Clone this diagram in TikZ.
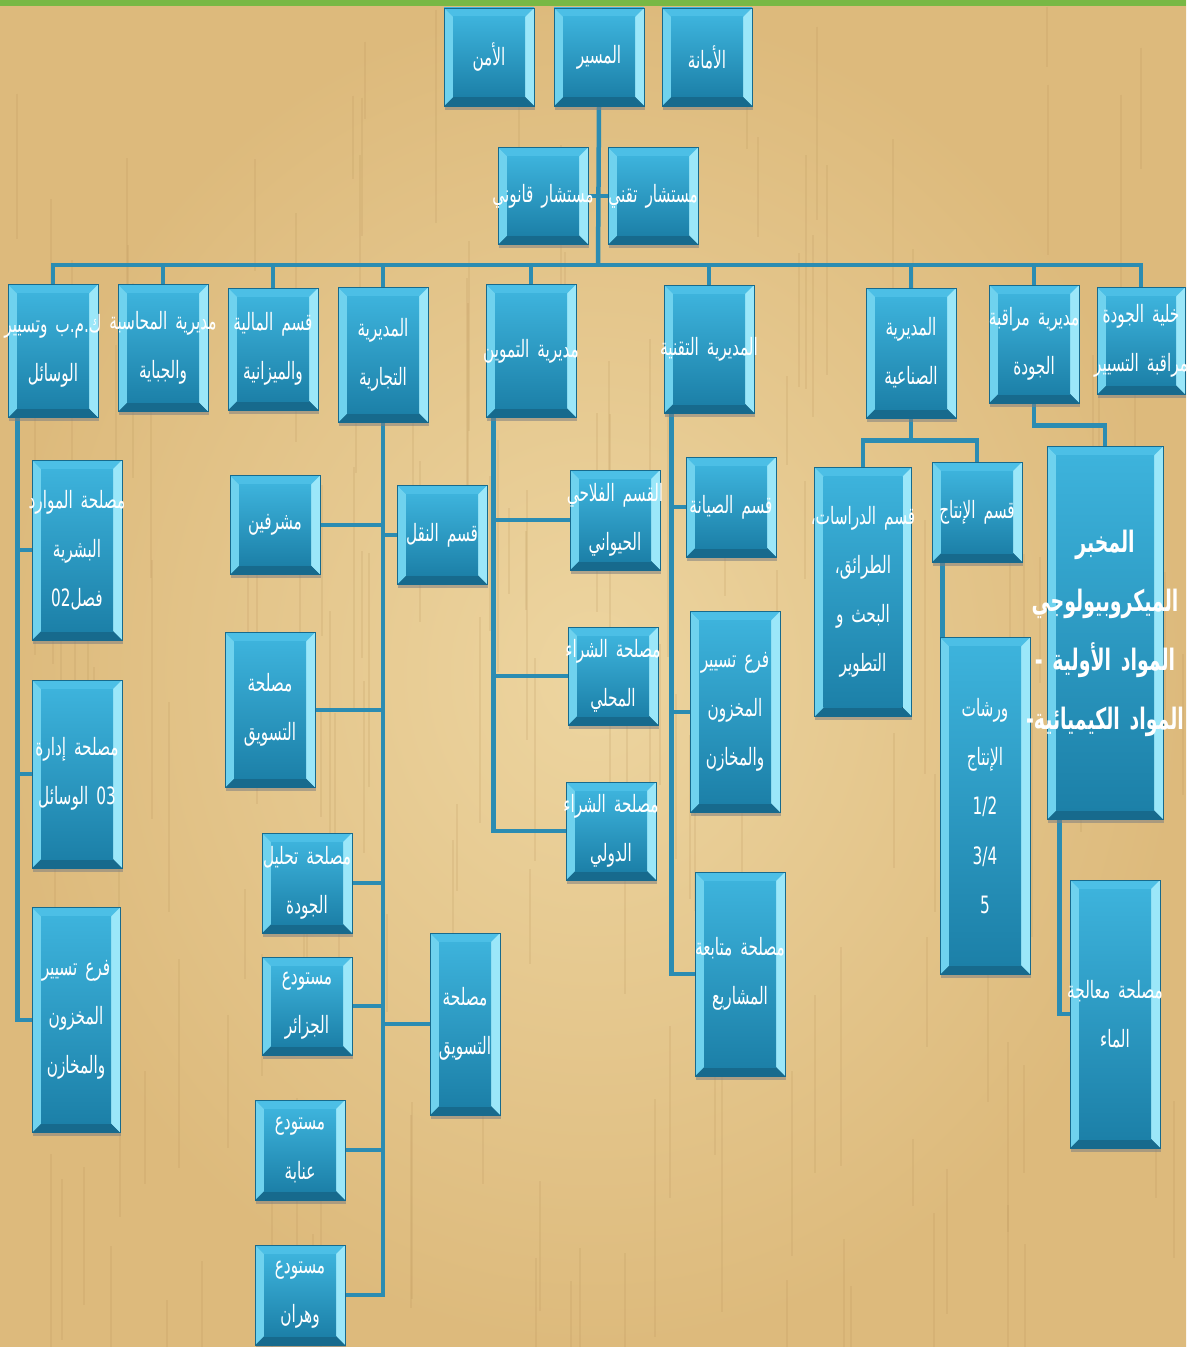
\documentclass[tikz,border=0pt]{standalone}
\usepackage{fontspec}
\usetikzlibrary{calc, backgrounds, shadows}
\newfontfamily\arabicfont[Script=Arabic, FakeStretch=0.64]{DejaVu Sans}
\TeXXeTstate=1
\definecolor{boxhi}{HTML}{3DB3DC}
\definecolor{boxlo}{HTML}{1C80A8}
\definecolor{bevhi}{HTML}{9BE7F9}
\definecolor{bevmid}{HTML}{6FD2EE}
\definecolor{bevtop}{HTML}{4CBFE6}
\definecolor{bevdark}{HTML}{176A8D}
\definecolor{wire}{HTML}{2B8CB2}
\definecolor{paper}{HTML}{DDBA7C}
\definecolor{paperhi}{HTML}{EDD5A0}
\definecolor{grain}{HTML}{B8935A}
\definecolor{topbar}{HTML}{78B845}
% one line of arabic text, centred even when it runs over the box
\newcommand{\artxt}[1]{\makebox[\hsize]{\beginR #1\endR}}
\newcommand{\lttxt}[1]{\makebox[\hsize]{#1}}

\begin{document}
\begin{tikzpicture}[x=0.025cm, y=-0.025cm,
  box/.style={draw=bevdark, line width=0.4pt, top color=boxhi, bottom color=boxlo,
    text=white, align=center, inner xsep=0pt, inner ysep=2pt,
    font=\arabicfont\fontsize{17}{35}\selectfont,
    drop shadow={shadow xshift=0.6pt, shadow yshift=-2.5pt, opacity=0.55},
    path picture={
      \path (path picture bounding box.north west) coordinate (pA)
            (path picture bounding box.north east) coordinate (pB)
            (path picture bounding box.south east) coordinate (pC)
            (path picture bounding box.south west) coordinate (pD);
      \fill[bevtop] (pA) -- (pB) -- ($(pB)+(-9,9)$) -- ($(pA)+(9,9)$) -- cycle;
      \fill[bevhi] (pB) -- (pC) -- ($(pC)+(-9,-9)$) -- ($(pB)+(-9,9)$) -- cycle;
      \fill[bevdark] (pC) -- (pD) -- ($(pD)+(9,-9)$) -- ($(pC)+(-9,-9)$) -- cycle;
      \fill[bevmid] (pD) -- (pA) -- ($(pA)+(9,9)$) -- ($(pD)+(9,-9)$) -- cycle;
      \fill[top color=boxhi, bottom color=boxlo] ($(pA)+(9,9)$) rectangle ($(pC)+(-9,-9)$);
    }},
  unit/.code 2 args={\pgfmathsetlengthmacro\boxw{#1*0.025cm}%
    \pgfmathsetlengthmacro\boxh{#2*0.025cm}%
    \edef\tmpset{\noexpand\tikzset{box, text width=\boxw, minimum height=\boxh}}\tmpset},
  lab/.style={font=\arabicfont\bfseries\fontsize{21}{42}\selectfont},
  link/.style={wire, line width=3.2pt},
  streak/.style={grain, opacity=0.18, line width=1.2pt}]
  \useasboundingbox (0,0) rectangle (1186,1347);

  % top
  \node[unit={90}{98}] (amn) at (489,57) {\artxt{الأمن}};
  \node[unit={90}{98}] (masir) at (599,57) {\artxt{المسير}};
  \node[unit={90}{98}] (amana) at (707,57) {\artxt{الأمانة}};
  \node[unit={90}{97}] (qanuni) at (543,196) {\artxt{مستشار قانوني}};
  \node[unit={90}{97}] (taqni) at (653,196) {\artxt{مستشار تقني}};

  % directions
  \node[unit={90}{133}] (wasail) at (53,351) {\artxt{ك.م.ب وتسيير}\\\artxt{الوسائل}};
  \node[unit={90}{127}] (muhasaba) at (163,348) {\artxt{مديرية المحاسبة}\\\artxt{والجباية}};
  \node[unit={90}{122}] (maliya) at (273,349) {\artxt{قسم المالية}\\\artxt{والميزانية}};
  \node[unit={90}{135}] (tijariya) at (383,355) {\artxt{المديرية}\\\artxt{التجارية}};
  \node[unit={90}{133}] (tamwin) at (531,351) {\artxt{مديرية التموين}};
  \node[unit={90}{128}] (taqniya) at (709,349) {\artxt{المديرية التقنية}};
  \node[unit={90}{130}] (sinaiya) at (911,353) {\artxt{المديرية}\\\artxt{الصناعية}};
  \node[unit={90}{118}] (muraqaba) at (1034,344) {\artxt{مديرية مراقبة}\\\artxt{الجودة}};
  \node[unit={88}{107}] (khaliya) at (1141,341) {\artxt{خلية الجودة}\\\artxt{مراقبة التسيير}};

  % under wasail
  \node[unit={90}{180}] (bashariya) at (77,550)
    {\artxt{مصلحة الموارد}\\\artxt{البشرية}\\\artxt{فصل\beginL 02\endL}};
  \node[unit={90}{188}] (idara) at (77,774)
    {\artxt{مصلحة إدارة}\\\artxt{\beginL 03\endL{} الوسائل}};
  \node[unit={88}{225}] (makhzunA) at (76,1020)
    {\artxt{فرع تسيير}\\\artxt{المخزون}\\\artxt{والمخازن}};

  % under tijariya
  \node[unit={90}{99}] (mushrifin) at (275,525) {\artxt{مشرفين}};
  \node[unit={90}{155}] (taswiqA) at (270,710) {\artxt{مصلحة}\\\artxt{التسويق}};
  \node[unit={90}{100}] (tahlil) at (307,883) {\artxt{مصلحة تحليل}\\\artxt{الجودة}};
  \node[unit={90}{98}] (jazair) at (307,1006) {\artxt{مستودع}\\\artxt{الجزائر}};
  \node[unit={90}{100}] (annaba) at (300,1150) {\artxt{مستودع}\\\artxt{عنابة}};
  \node[unit={90}{100}] (wahran) at (300,1295) {\artxt{مستودع}\\\artxt{وهران}};
  \node[unit={90}{99}] (naql) at (442,535) {\artxt{قسم النقل}};
  \node[unit={70}{182}] (taswiqB) at (465,1024) {\artxt{مصلحة}\\\artxt{التسويق}};

  % under tamwin
  \node[unit={90}{100}] (filahi) at (615,520) {\artxt{القسم الفلاحي}\\\artxt{الحيواني}};
  \node[unit={90}{98}] (mahalli) at (613,676) {\artxt{مصلحة الشراء}\\\artxt{المحلي}};
  \node[unit={90}{98}] (duwali) at (611,831) {\artxt{مصلحة الشراء}\\\artxt{الدولي}};

  % under taqniya
  \node[unit={90}{100}] (siyana) at (731,507) {\artxt{قسم الصيانة}};
  \node[unit={90}{201}] (makhzunB) at (735,712)
    {\artxt{فرع تسيير}\\\artxt{المخزون}\\\artxt{والمخازن}};
  \node[unit={90}{204}] (mashari) at (740,974) {\artxt{مصلحة متابعة}\\\artxt{المشاريع}};

  % under sinaiya
  \node[unit={97}{249}] (dirasat) at (863,592)
    {\artxt{قسم الدراسات،}\\\artxt{الطرائق،}\\\artxt{البحث و}\\\artxt{التطوير}};
  \node[unit={90}{100}] (intaj) at (977,512) {\artxt{قسم الإنتاج}};
  \node[unit={90}{337}] (warshat) at (985,806)
    {\artxt{ورشات}\\\artxt{الإنتاج}\\\lttxt{1/2}\\\lttxt{3/4}\\\lttxt{5}};

  % under muraqaba
  \node[unit={116}{373}, lab] (mikhbar) at (1105,633)
    {\artxt{المخبر}\\\artxt{الميكروبيولوجي}\\\artxt{المواد الأولية -}\\\artxt{المواد الكيميائية-}};
  \node[unit={90}{268}] (maa) at (1115,1014) {\artxt{مصلحة معالجة}\\\artxt{الماء}};

  \begin{scope}[on background layer]
    \fill[inner color=paperhi, outer color=paper] (0,0) rectangle (1186,1347);
    \pgfmathsetseed{41}
    \foreach \i in {1,...,160}{%
      \pgfmathsetmacro\gx{random(0,1186)}
      \pgfmathsetmacro\gy{random(0,1300)}
      \pgfmathsetmacro\gl{random(60,260)}
      \draw[streak] (\gx,\gy) -- ++(0,\gl);}
    \fill[topbar] (0,0) rectangle (1186,6);
    \coordinate (bus) at (598,265);
    \draw[link] (masir.south) -- (bus);
    \draw[link] (qanuni.east) -- (taqni.west);
    \foreach \n in {wasail,muhasaba,maliya,tijariya,tamwin,taqniya,sinaiya,muraqaba,khaliya}
      \draw[link] (bus) -| (\n.north);
    \foreach \n in {bashariya,idara,makhzunA}
      \draw[link] ($(wasail.south west)+(10,0)$) |- (\n.west);
    \foreach \n in {mushrifin,taswiqA,tahlil,jazair,annaba,wahran}
      \draw[link] (tijariya.south) |- (\n.east);
    \foreach \n in {naql,taswiqB}
      \draw[link] (tijariya.south) |- (\n.west);
    \foreach \n in {filahi,mahalli,duwali}
      \draw[link] ($(tamwin.south west)+(8,0)$) |- (\n.west);
    \foreach \n in {siyana,makhzunB,mashari}
      \draw[link] ($(taqniya.south west)+(8,0)$) |- (\n.west);
    \foreach \n in {dirasat,intaj}
      \draw[link] (sinaiya.south) -- ++(0,22) -| (\n.north);
    \draw[link] ($(intaj.south west)+(11,0)$) -- ($(warshat.north west)+(3,0)$);
    \draw[link] (muraqaba.south) -- ++(0,22) -| (mikhbar.north);
    \draw[link] ($(mikhbar.south west)+(13,0)$) |- (maa.west);
  \end{scope}
\end{tikzpicture}
\end{document}
